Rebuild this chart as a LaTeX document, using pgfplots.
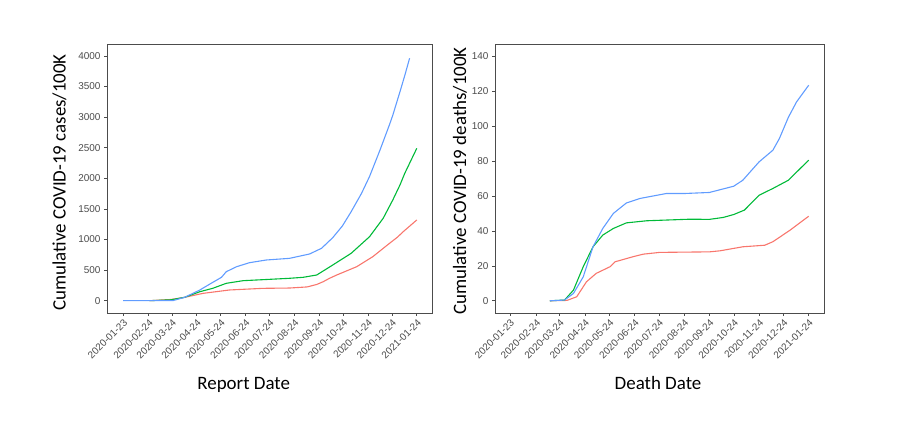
\documentclass[border=0pt]{standalone}
\usepackage{pgfplots}
\pgfplotsset{compat=1.18}
\usepackage{fontspec}
\setmainfont{Carlito}
\newfontfamily\tickfont{Liberation Sans}

\definecolor{gred}{HTML}{F8766D}
\definecolor{ggreen}{HTML}{00BA38}
\definecolor{gblue}{HTML}{619CFF}

% days counted from 2020-01-23
\pgfplotsset{
  covid/.style={
    scale only axis,
    anchor=south west,
    height=269bp,
    axis line style={black!70, line width=0.8bp},
    tick align=outside,
    xtick pos=bottom, ytick pos=left,
    major tick length=3bp,
    tick style={black!70, line width=0.6bp},
    xtick={0,32,61,92,122,153,183,214,245,275,306,336,367},
    xticklabels={2020-01-23,2020-02-24,2020-03-24,2020-04-24,2020-05-24,2020-06-24,
      2020-07-24,2020-08-24,2020-09-24,2020-10-24,2020-11-24,2020-12-24,2021-01-24},
    xticklabel style={rotate=45, anchor=north east, inner sep=1.5bp,
      font=\tickfont\fontsize{10}{10}\selectfont, text=black!70},
    yticklabel style={font=\tickfont\fontsize{10}{10}\selectfont, text=black!70},
    /pgf/number format/assume math mode=true,
    /pgf/number format/1000 sep={},
    scaled y ticks=false,
    every axis plot/.append style={line width=1.1bp, no marks, line join=round},
  }
}

\begin{document}
\begin{tikzpicture}
\useasboundingbox (0,0) rectangle (900bp,439bp);

% cases by report date
\begin{axis}[covid, at={(107bp,126bp)}, width=325bp,
  xmin=-20, xmax=386, ymin=-201, ymax=4194,
  ytick={0,500,...,4000}]
\addplot[gred] coordinates {
  (33,0) (60,20) (77,55) (100,120) (133,175) (175,202) (208,207) (230,225)
  (242,265) (250,310) (258,366) (267,420) (292,556) (312,719) (333,938)
  (343,1040) (350,1127) (367,1319)};
\addplot[ggreen] coordinates {
  (33,0) (60,15) (77,55) (96,147) (112,202) (129,284) (150,327) (183,349)
  (208,366) (225,382) (242,420) (258,550) (285,774) (308,1046) (325,1346)
  (337,1645) (346,1891) (352,2082) (367,2490)};
\addplot[gblue] coordinates {
  (0,0) (62,0) (77,55) (96,175) (108,268) (123,382) (129,474) (142,556)
  (158,621) (179,665) (208,692) (233,763) (248,856) (262,1030) (274,1220)
  (285,1454) (298,1755) (308,2030) (321,2460) (333,2880) (337,3030)
  (346,3415) (352,3680) (358,3961)};
\end{axis}

% deaths by death date
\begin{axis}[covid, at={(495bp,126bp)}, width=329bp,
  xmin=-18.4, xmax=385.8, ymin=-7, ymax=147,
  ytick={0,20,...,140}]
\addplot[gred] coordinates {
  (49,0) (70,0.2) (82,2.3) (94,10.9) (106,15.7) (123,19.5) (129,22.3)
  (151,25.2) (164,26.7) (184,27.7) (245,28) (258,28.6) (275,30) (286,30.9)
  (313,31.8) (323,33.8) (344,40.4) (367,48.4)};
\addplot[ggreen] coordinates {
  (49,0) (67,0.4) (78,6.1) (90,19.5) (102,30.9) (114,37.6) (127,41.4)
  (143,44.6) (168,45.8) (221,46.7) (245,46.6) (262,47.7) (275,49.4)
  (288,51.9) (306,60.4) (323,64.3) (342,69) (367,80.5)};
\addplot[gblue] coordinates {
  (49,0) (67,0.4) (78,4.2) (90,13.7) (102,30.9) (114,41.4) (127,50)
  (143,56) (160,58.6) (192,61.4) (214,61.4) (245,62) (275,65.6) (286,69)
  (306,79.5) (323,86.2) (331,92.9) (342,105) (352,113.8) (367,123.4)};
\end{axis}

\node[rotate=90, font=\fontsize{19}{19}\selectfont] at (59.5bp,256.5bp)
  {Cumulative COVID-19 cases/100K};
\node[rotate=90, font=\fontsize{19}{19}\selectfont] at (460bp,258bp)
  {Cumulative COVID-19 deaths/100K};
\node[anchor=base, font=\fontsize{19}{19}\selectfont] at (243.7bp,49bp) {Report Date};
\node[anchor=base, font=\fontsize{19}{19}\selectfont] at (658bp,49bp) {Death Date};
\end{tikzpicture}
\end{document}
